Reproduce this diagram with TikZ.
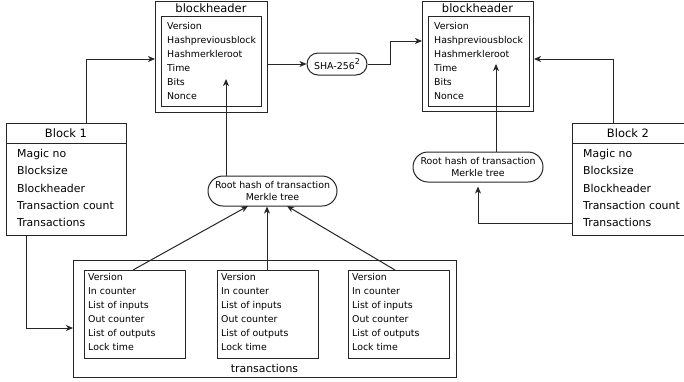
\documentclass[tikz,border=0pt]{standalone}
\usepackage{fontspec}
\setmainfont{DejaVu Sans}
\usetikzlibrary{arrows.meta,shapes.misc}
\begin{document}
\begin{tikzpicture}[x=1pt,y=-1pt,
  box/.style={draw=black!85,line width=1pt,inner sep=0pt,anchor=north west},
  small/.style={font=\fontsize{9.4}{11}\selectfont,inner sep=0pt,anchor=mid west},
  mid/.style={font=\fontsize{10.9}{13}\selectfont,inner sep=0pt,anchor=mid west},
  ttl/.style={font=\fontsize{11.5}{13}\selectfont,inner sep=0pt},
  pill/.style={draw=black!85,line width=1pt,rounded rectangle,inner sep=0pt,align=center,font=\fontsize{9.4}{11.5}\selectfont},
  conn/.style={draw=black!85,line width=1pt,-{Stealth[length=7pt,width=6pt,inset=2pt]}},
  line/.style={draw=black!85,line width=1pt}]
\useasboundingbox (0,0) rectangle (684,381);
% left blockheader
\node[box,minimum width=112pt,minimum height=111.5pt] (hL) at (155,0.5) {};
\node[box,minimum width=100pt,minimum height=90pt] (hLi) at (161,16) {};
\node[ttl] (hLt) at (211,8) {blockheader};
\foreach \t [count=\i] in {Version,Hashpreviousblock,Hashmerkleroot,Time,Bits,Nonce}
  \node[small] (hL\i) at (167,{13+14*\i}) {\t};
% right blockheader
\node[box,minimum width=111pt,minimum height=110.5pt] (hR) at (422,0.5) {};
\node[box,minimum width=101pt,minimum height=90pt] (hRi) at (428,16) {};
\node[ttl] (hRt) at (477.5,8) {blockheader};
\foreach \t [count=\i] in {Version,Hashpreviousblock,Hashmerkleroot,Time,Bits,Nonce}
  \node[small] (hR\i) at (434,{13+14*\i}) {\t};
% SHA
\node[pill,minimum width=60pt,minimum height=22pt] (sha) at (337,64) {SHA-256\raisebox{0.9ex}{\fontsize{8}{9}\selectfont 2}};
% Block 1
\node[box,minimum width=120pt,minimum height=112pt] (b1) at (6,123) {};
\draw[line] (6,143) -- (126,143);
\node[ttl] (b1t) at (66,133) {Block 1};
\foreach \t [count=\i] in {Magic no,Blocksize,Blockheader,Transaction count,Transactions}
  \node[mid] (b1\i) at (17,{137.5+17.3*\i}) {\t};
% Block 2
\node[box,minimum width=113pt,minimum height=112pt] (b2) at (572,123) {};
\draw[line] (572,143) -- (685,143);
\node[ttl] (b2t) at (628,133) {Block 2};
\foreach \t [count=\i] in {Magic no,Blocksize,Blockheader,Transaction count,Transactions}
  \node[mid] (b2\i) at (583,{137.5+17.3*\i}) {\t};
% root hash nodes
\node[pill,minimum width=129pt,minimum height=30pt] (rL) at (272.5,191) {Root hash of transaction\\Merkle tree};
\node[pill,minimum width=130pt,minimum height=30pt] (rR) at (478,167) {Root hash of transaction\\Merkle tree};
% transactions
\node[box,minimum width=383pt,minimum height=117pt] (tx) at (73,260) {};
\node[mid,anchor=center] (txt) at (264.5,368) {transactions};
\foreach \n/\x in {1/84,2/217,3/348}{
  \node[box,minimum width=101pt,minimum height=88pt] (t\n) at (\x,270) {};
  \foreach \t [count=\i] in {Version,In counter,List of inputs,Out counter,List of outputs,Lock time}
    \node[small] (t\n-\i) at ({\x+4},{264+14*\i}) {\t};
}
% connectors
\coordinate (c1) at (86,59);
\draw[conn] (b1.north -| c1) -- (c1) -- (hL.west |- c1);
\draw[conn] (hL.east |- sha.west) -- (sha.west);
\coordinate (c2) at (390,41);
\draw[conn] (sha.east) -- (sha.east -| c2) -- (c2) -- (hR.west |- c2);
\coordinate (c3) at (613,59);
\draw[conn] (b2.north -| c3) -- (c3) -- (hR.east |- c3);
\coordinate (c4) at (226,79);
\draw[conn] (rL.north -| c4) -- (c4);
\coordinate (c5) at (496,64);
\draw[conn] (rR.north -| c5) -- (c5);
\coordinate (c6) at (478,223);
\draw[conn] (b2.west |- c6) -- (c6) -- ([yshift=-4pt]rR.south);
\coordinate (c7) at (26,328);
\draw[conn] (b1.south -| c7) -- (c7) -- (tx.west |- c7);
\coordinate (e1) at (248,206);
\coordinate (e3) at (287,206);
\draw[conn] (t1.north -| 133,0) -- (e1);
\draw[conn] (t2.north -| 267,0) -- (rL.south -| 267,0);
\draw[conn] (t3.north -| 395,0) -- (e3);
\end{tikzpicture}
\end{document}
